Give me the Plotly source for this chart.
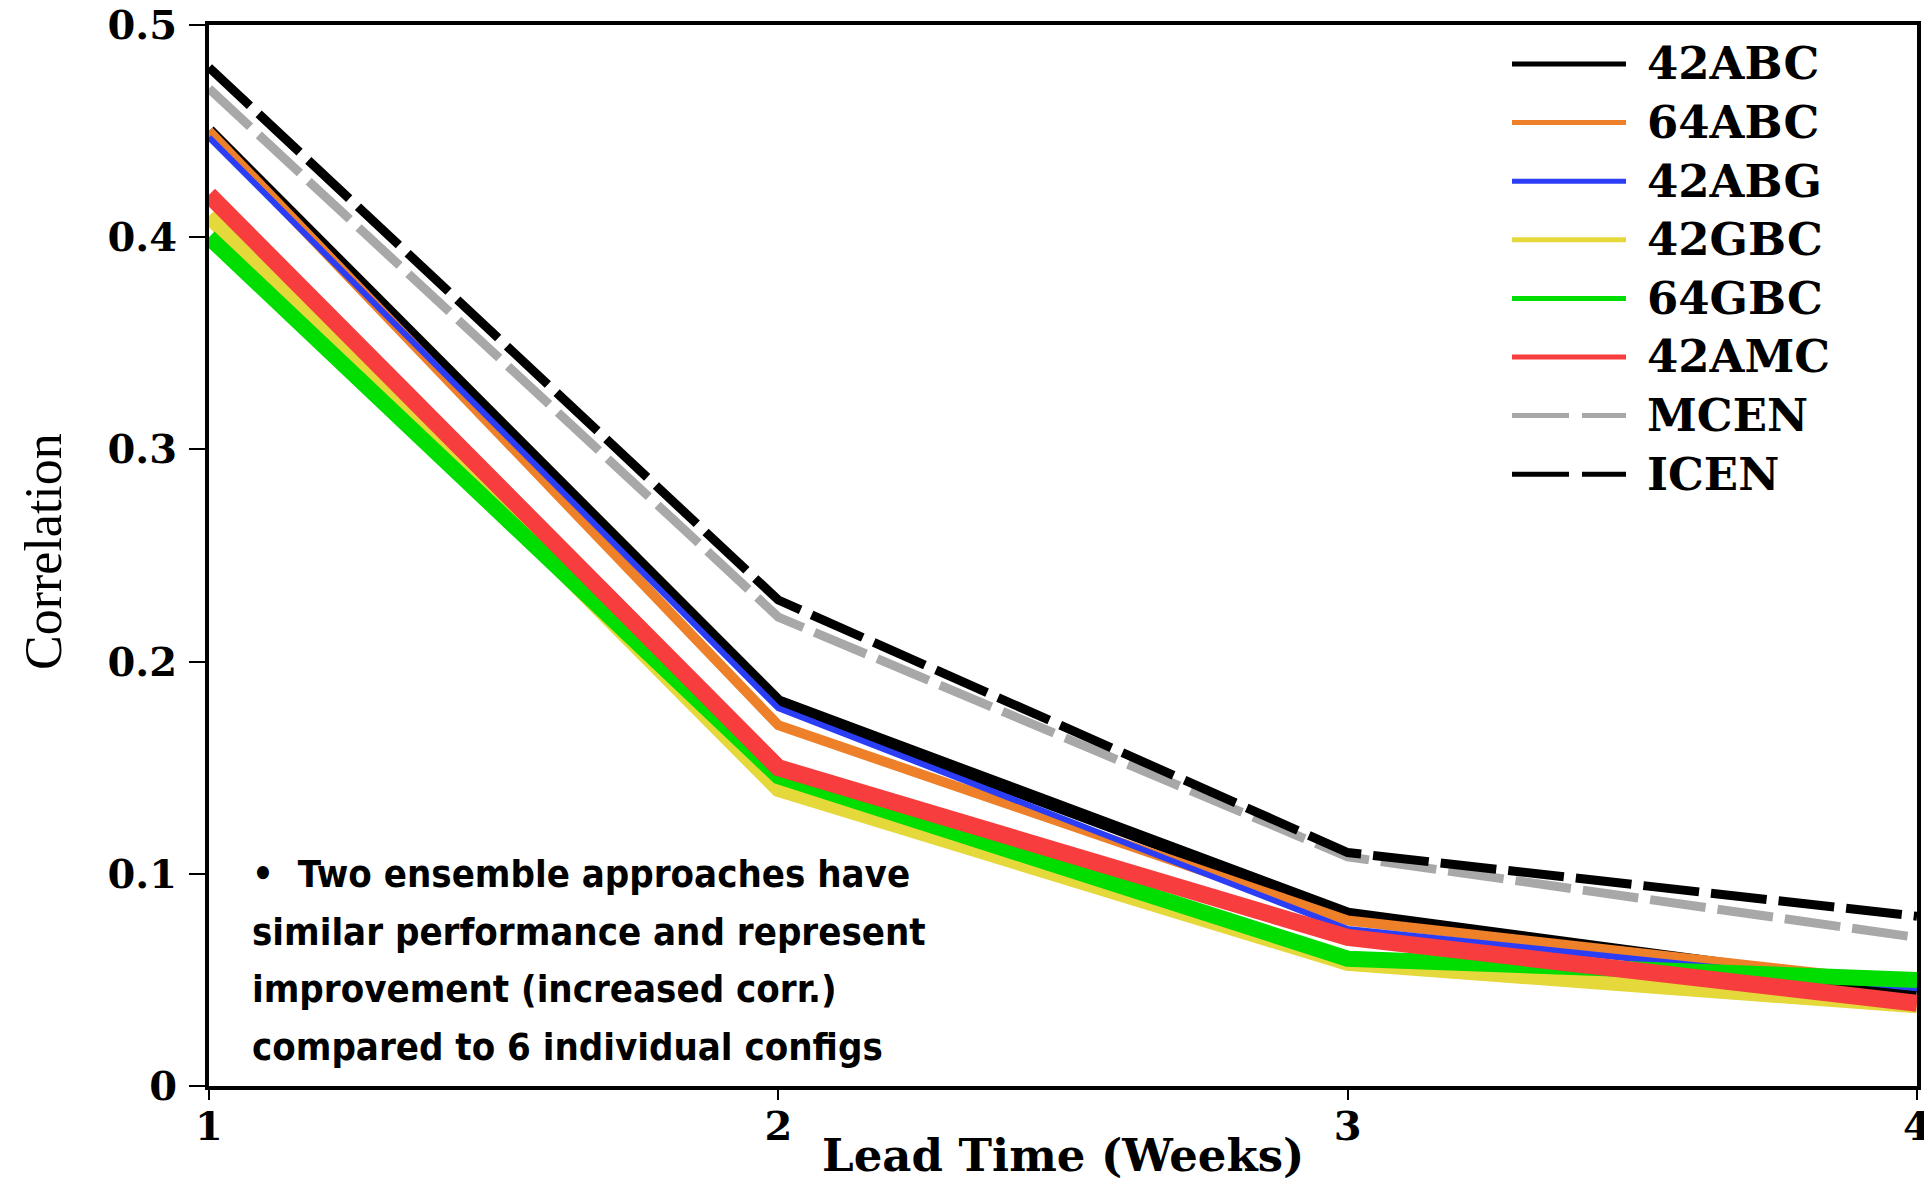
import plotly.graph_objects as go

# ---- data ----
weeks = [1, 2, 3, 4]
week_labels = ["1", "2", "3", "4"]
y_ticks = [0, 0.1, 0.2, 0.3, 0.4, 0.5]
y_tick_labels = ["0", "0.1", "0.2", "0.3", "0.4", "0.5"]

series_names = ["42ABC", "64ABC", "42ABG", "42GBC", "64GBC", "42AMC", "MCEN", "ICEN"]
abc42 = [0.450, 0.181, 0.081, 0.045]
abc64 = [0.450, 0.170, 0.078, 0.048]
abg42 = [0.447, 0.178, 0.074, 0.046]
gbc42 = [0.410, 0.140, 0.058, 0.038]
gbc64 = [0.400, 0.146, 0.060, 0.050]
amc42 = [0.420, 0.150, 0.070, 0.039]
mcen = [0.470, 0.221, 0.108, 0.070]
icen = [0.480, 0.229, 0.110, 0.080]
values = [abc42, abc64, abg42, gbc42, gbc64, amc42, mcen, icen]

colors = ["#000000", "#ee8029", "#2b3ef5", "#e4d83a", "#00dd00", "#f73d3d", "#a8a8a8", "#000000"]
widths = [13, 10, 6, 16, 16, 17, 9, 9]
dashes = ["solid"] * 6 + ["56px,12px", "56px,12px"]
legend_dashes = ["solid"] * 6 + ["57px,13px", "57px,13px"]

note_lines = ["•  Two ensemble approaches have",
              "similar performance and represent",
              "improvement (increased corr.)",
              "compared to 6 individual configs"]

# ---- layout geometry (pixels) ----
W, H = 1924, 1182
L, R, T, B = 209, 7, 25, 96
pw, ph = W - L - R, H - T - B

fig = go.Figure()
for name, vals, c, w, d in zip(series_names, values, colors, widths, dashes):
    fig.add_trace(go.Scatter(x=weeks, y=vals, mode="lines", name=name,
                             line=dict(color=c, width=w, dash=d),
                             showlegend=False, hoverinfo="x+y+name"))

# custom legend (long line samples like the original)
serif_bold = dict(family="DejaVu Serif", size=45, color="#000000", weight="bold")
for i, (name, c, d) in enumerate(zip(series_names, colors, legend_dashes)):
    yc = 64 + 58.6 * i
    yp = (H - B - yc) / ph
    x0 = (1512 - L) / pw
    x1 = (1626 - L) / pw
    fig.add_shape(type="line", xref="paper", yref="paper", x0=x0, x1=x1, y0=yp, y1=yp,
                  line=dict(color=c, width=5, dash=d))
    fig.add_annotation(xref="paper", yref="paper", x=(1645 - L) / pw, y=yp,
                       xanchor="left", yanchor="middle", text=name, showarrow=False,
                       font=serif_bold)

# note text, one annotation per line to keep the original line spacing
note_font = dict(family="DejaVu Sans Condensed, Liberation Sans Narrow, Liberation Sans",
                 size=38, color="#000000", weight="bold")
for i, line in enumerate(note_lines):
    yc = 874 + 57.7 * i
    fig.add_annotation(xref="paper", yref="paper", x=(250 - L) / pw, y=(H - B - yc) / ph,
                       xanchor="left", yanchor="middle", align="left", text=line,
                       showarrow=False, font=note_font)

# axis titles
fig.add_annotation(xref="paper", yref="paper", x=(1063 - L) / pw, y=(H - B - 1155) / ph,
                   xanchor="center", yanchor="middle", text="Lead Time (Weeks)",
                   showarrow=False,
                   font=dict(family="DejaVu Serif", size=45, color="#000000", weight="bold"))
fig.add_annotation(xref="paper", yref="paper", x=(43 - L) / pw, y=(H - B - 552) / ph,
                   xanchor="center", yanchor="middle", text="Correlation", textangle=-90,
                   showarrow=False,
                   font=dict(family="Liberation Serif", size=52, color="#000000"))

tick_font = dict(family="DejaVu Serif", size=40, color="#000000", weight="bold")
fig.update_layout(
    width=W, height=H,
    margin=dict(l=L, r=R, t=T, b=B, autoexpand=False),
    paper_bgcolor="white", plot_bgcolor="white",
    xaxis=dict(range=[1, 4], tickvals=weeks, ticktext=week_labels, showgrid=False,
               zeroline=False, showline=True, linecolor="black", linewidth=4, mirror=True,
               ticks="outside", ticklen=10, tickwidth=2, tickcolor="black",
               tickfont=tick_font, ticklabelstandoff=-8, ticklabeloverflow="allow"),
    yaxis=dict(range=[0, 0.5], tickvals=y_ticks, ticktext=y_tick_labels, showgrid=False,
               zeroline=False, showline=True, linecolor="black", linewidth=4, mirror=True,
               ticks="outside", ticklen=16, tickwidth=2, tickcolor="black",
               tickfont=tick_font, ticklabelstandoff=4),
)

fig.write_html("out.html", include_plotlyjs=True, config={"displayModeBar": False},
               post_script="document.body.style.margin='0';document.body.style.overflow='hidden';")
